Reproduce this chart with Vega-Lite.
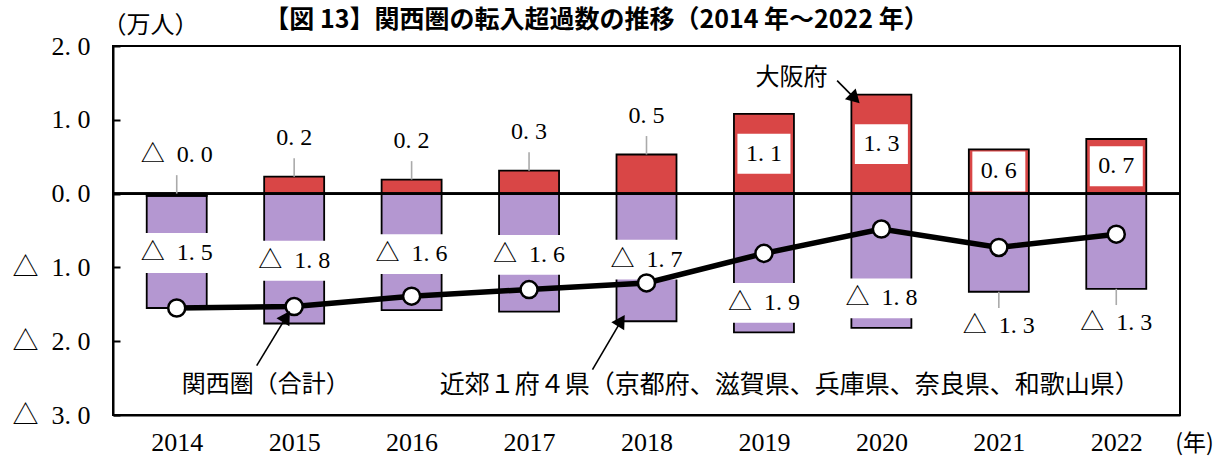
{
  "$schema": "https://vega.github.io/schema/vega-lite/v6.json",
  "width": 1067,
  "height": 369,
  "autosize": {"type": "none"},
  "padding": {"left": 113, "top": 46, "right": 42, "bottom": 47},
  "background": "white",
  "config": {
    "view": {"stroke": "black", "strokeWidth": 2},
    "axis": {"domainColor": "black", "domainWidth": 2, "grid": false, "labelColor": "black", "titleColor": "black"}
  },
  "title": {
    "text": "【図 13】関西圏の転入超過数の推移（2014 年～2022 年）",
    "font": "Noto Sans CJK JP",
    "fontWeight": "bold",
    "fontSize": 25,
    "color": "black",
    "anchor": "middle",
    "frame": "group",
    "dx": -50,
    "offset": -20
  },
  "datasets": {
    "kansai": [
      {"year": 2014, "osaka": -0.03, "suburbs": -1.52, "total": -1.55},
      {"year": 2015, "osaka": 0.23, "suburbs": -1.76, "total": -1.53},
      {"year": 2016, "osaka": 0.19, "suburbs": -1.58, "total": -1.39},
      {"year": 2017, "osaka": 0.31, "suburbs": -1.60, "total": -1.30},
      {"year": 2018, "osaka": 0.53, "suburbs": -1.73, "total": -1.21},
      {"year": 2019, "osaka": 1.08, "suburbs": -1.88, "total": -0.81},
      {"year": 2020, "osaka": 1.34, "suburbs": -1.82, "total": -0.48},
      {"year": 2021, "osaka": 0.60, "suburbs": -1.33, "total": -0.73},
      {"year": 2022, "osaka": 0.74, "suburbs": -1.29, "total": -0.55}
    ],
    "notes": [
      {"note": "大阪府", "tx": 2019.235, "ty": 1.572, "x0": 2019.623, "y0": 1.531, "x1": 2019.775, "y1": 1.287},
      {"note": "関西圏（合計）", "tx": 2014.757, "ty": -2.588, "x0": 2014.681, "y0": -2.331, "x1": 2014.934, "y1": -1.667},
      {"note": "近郊１府４県（京都府、滋賀県、兵庫県、奈良県、和歌山県）", "tx": 2019.219, "ty": -2.588, "x0": 2017.540, "y0": -2.385, "x1": 2017.785, "y1": -1.721}
    ]
  },
  "layer": [
    {
      "data": {"name": "kansai"},
      "transform": [
        {"calculate": "(datum.osaka < 0 ? '△\u2002' : '') + replace(format(abs(datum.osaka), '.1f'), '.', '. ')", "as": "osakaLabel"},
        {"calculate": "(datum.suburbs < 0 ? '△\u2002' : '') + replace(format(abs(datum.suburbs), '.1f'), '.', '. ')", "as": "subLabel"},
        {"calculate": "min(datum.osaka, 0)", "as": "base"},
        {"calculate": "min(datum.osaka, 0) + datum.suburbs", "as": "bottom"},
        {"calculate": "max(datum.osaka, 0)", "as": "osakaTop"},
        {"calculate": "datum.year <= 2018 ? datum.osakaTop + 0.52 : datum.osaka / 2", "as": "osakaY"},
        {"calculate": "datum.year <= 2018 ? datum.bottom / 2 - 0.03 : (datum.year <= 2020 ? datum.bottom + 0.4 : datum.bottom - 0.47)", "as": "subY"},
        {"calculate": "datum.osakaY - 0.27", "as": "osakaYlo"},
        {"calculate": "datum.osakaY + 0.27", "as": "osakaYhi"},
        {"calculate": "datum.subY - 0.27", "as": "subYlo"},
        {"calculate": "datum.subY + 0.27", "as": "subYhi"},
        {"calculate": "datum.bottom - 0.22", "as": "subLeader"}
      ],
      "layer": [
        {
          "mark": {"type": "bar", "width": 60, "fill": "#b497d1", "stroke": "black", "strokeWidth": 1.8},
          "encoding": {
            "x": {
              "field": "year", "type": "quantitative",
              "scale": {"domain": [2013.5, 2022.5], "nice": false, "zero": false},
              "axis": {
                "values": [2014, 2015, 2016, 2017, 2018, 2019, 2020, 2021, 2022],
                "format": "d", "ticks": false, "labelFont": "Liberation Serif", "labelFontSize": 26,
                "labelPadding": 14, "labelFlush": false,
                "title": "(年)", "titleFont": "Noto Sans CJK JP", "titleFontSize": 23, "titleFontWeight": "normal",
                "titleX": 1081, "titleY": 28, "titleAlign": "center", "titleBaseline": "middle"
              }
            },
            "y": {
              "field": "base", "type": "quantitative",
              "scale": {"domain": [-3, 2], "nice": false, "zero": false},
              "axis": {
                "values": [-3, -2, -1, 0, 1, 2],
                "labelExpr": "(datum.value < 0 ? '△\u2002' : '') + replace(format(abs(datum.value), '.1f'), '.', '. ')",
                "labelFont": "Liberation Serif, Noto Sans CJK JP", "labelFontSize": 26,
                "tickSize": -7, "tickWidth": 2, "tickColor": "black", "labelPadding": 30,
                "title": "（万人）", "titleAngle": 0, "titleX": 37, "titleY": -21, "titleAlign": "center", "titleBaseline": "middle",
                "titleFont": "Noto Sans CJK JP", "titleFontSize": 24, "titleFontWeight": "normal"
              }
            },
            "y2": {"field": "bottom"}
          }
        },
        {
          "mark": {"type": "bar", "width": 60, "fill": "#d94646", "stroke": "black", "strokeWidth": 1.8},
          "encoding": {
            "x": {"field": "year", "type": "quantitative"},
            "y": {"field": "osaka", "type": "quantitative"},
            "y2": {"datum": 0}
          }
        },
        {
          "mark": {"type": "rule", "color": "black", "strokeWidth": 1.6},
          "encoding": {"y": {"datum": 0, "type": "quantitative"}}
        },
        {
          "transform": [{"filter": "datum.year <= 2018"}],
          "mark": {"type": "rule", "color": "#aaaaaa", "strokeWidth": 1.6},
          "encoding": {
            "x": {"field": "year", "type": "quantitative"},
            "y": {"field": "osakaTop", "type": "quantitative"},
            "y2": {"field": "osakaYlo"}
          }
        },
        {
          "transform": [{"filter": "datum.year >= 2021"}],
          "mark": {"type": "rule", "color": "#aaaaaa", "strokeWidth": 1.6},
          "encoding": {
            "x": {"field": "year", "type": "quantitative"},
            "y": {"field": "bottom", "type": "quantitative"},
            "y2": {"field": "subLeader"}
          }
        },
        {
          "transform": [{"filter": "datum.year >= 2019"}],
          "mark": {"type": "bar", "width": 53, "fill": "white"},
          "encoding": {
            "x": {"field": "year", "type": "quantitative"},
            "y": {"field": "osakaYhi", "type": "quantitative"},
            "y2": {"field": "osakaYlo"}
          }
        },
        {
          "transform": [{"filter": "datum.year <= 2020"}],
          "mark": {"type": "bar", "width": 80, "fill": "white"},
          "encoding": {
            "x": {"field": "year", "type": "quantitative"},
            "y": {"field": "subYhi", "type": "quantitative"},
            "y2": {"field": "subYlo"}
          }
        },
        {
          "mark": {"type": "text", "font": "Liberation Serif, Noto Sans CJK JP", "fontSize": 24, "color": "black", "baseline": "middle", "align": "center"},
          "encoding": {
            "x": {"field": "year", "type": "quantitative"},
            "y": {"field": "osakaY", "type": "quantitative"},
            "text": {"field": "osakaLabel"}
          }
        },
        {
          "mark": {"type": "text", "font": "Liberation Serif, Noto Sans CJK JP", "fontSize": 24, "color": "black", "baseline": "middle", "align": "center"},
          "encoding": {
            "x": {"field": "year", "type": "quantitative"},
            "y": {"field": "subY", "type": "quantitative"},
            "text": {"field": "subLabel"}
          }
        },
        {
          "mark": {"type": "line", "color": "black", "strokeWidth": 5.5},
          "encoding": {
            "x": {"field": "year", "type": "quantitative"},
            "y": {"field": "total", "type": "quantitative"}
          }
        },
        {
          "mark": {"type": "point", "shape": "circle", "filled": true, "fill": "white", "stroke": "black", "strokeWidth": 2.5, "size": 290, "opacity": 1},
          "encoding": {
            "x": {"field": "year", "type": "quantitative"},
            "y": {"field": "total", "type": "quantitative"}
          }
        }
      ]
    },
    {
      "data": {"name": "notes"},
      "layer": [
        {
          "transform": [{"filter": "length(datum.note) < 10"}],
          "mark": {"type": "text", "font": "Noto Sans CJK JP", "fontSize": 24, "color": "black", "baseline": "middle", "align": "center"},
          "encoding": {
            "x": {"field": "tx", "type": "quantitative"},
            "y": {"field": "ty", "type": "quantitative"},
            "text": {"field": "note"}
          }
        },
        {
          "transform": [{"filter": "length(datum.note) >= 10"}],
          "mark": {"type": "text", "font": "Noto Sans CJK JP", "fontSize": 25, "color": "black", "baseline": "middle", "align": "center"},
          "encoding": {
            "x": {"field": "tx", "type": "quantitative"},
            "y": {"field": "ty", "type": "quantitative"},
            "text": {"field": "note"}
          }
        },
        {
          "mark": {"type": "rule", "color": "black", "strokeWidth": 1.6},
          "encoding": {
            "x": {"field": "x0", "type": "quantitative"},
            "x2": {"field": "x1"},
            "y": {"field": "y0", "type": "quantitative"},
            "y2": {"field": "y1"}
          }
        },
        {
          "transform": [{"filter": "datum.note == '大阪府'"}],
          "mark": {"type": "point", "shape": "triangle-up", "filled": true, "color": "black", "size": 230, "opacity": 1, "angle": 135},
          "encoding": {
            "x": {"field": "x1", "type": "quantitative"},
            "y": {"field": "y1", "type": "quantitative"}
          }
        },
        {
          "transform": [{"filter": "datum.note != '大阪府'"}],
          "mark": {"type": "point", "shape": "triangle-up", "filled": true, "color": "black", "size": 230, "opacity": 1, "angle": 32},
          "encoding": {
            "x": {"field": "x1", "type": "quantitative"},
            "y": {"field": "y1", "type": "quantitative"}
          }
        }
      ]
    }
  ]
}
